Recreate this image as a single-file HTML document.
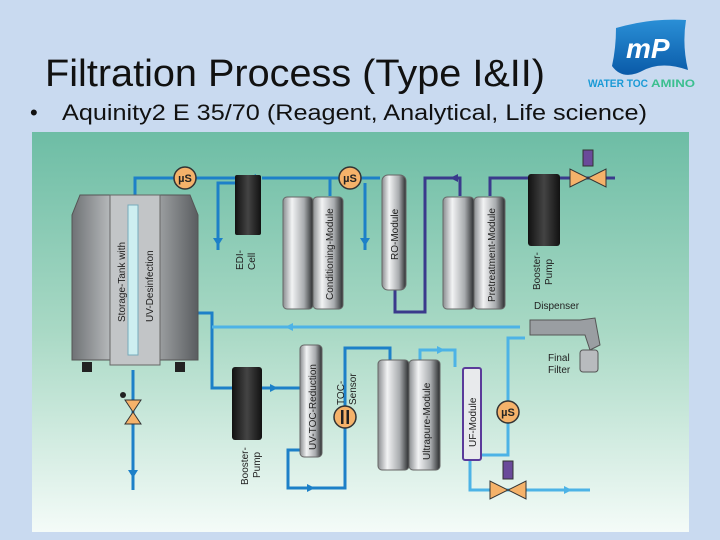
<!DOCTYPE html>
<html><head><meta charset="utf-8"><style>
html,body{margin:0;padding:0;width:720px;height:540px;overflow:hidden;background:#c9daf0}
svg{display:block}
text{font-family:"Liberation Sans",sans-serif}
</style></head><body>
<svg width="720" height="540" viewBox="0 0 720 540">
<defs>
<linearGradient id="bg" x1="0" y1="0" x2="0" y2="1">
<stop offset="0" stop-color="#6dbda5"/><stop offset="0.5" stop-color="#a9d9c5"/><stop offset="1" stop-color="#f4fbf8"/>
</linearGradient>
<linearGradient id="cyl" x1="0" y1="0" x2="1" y2="0">
<stop offset="0" stop-color="#8a8d90"/><stop offset="0.3" stop-color="#f2f3f4"/><stop offset="0.7" stop-color="#a8abae"/><stop offset="1" stop-color="#2a2c2e"/>
</linearGradient>
<linearGradient id="blk" x1="0" y1="0" x2="1" y2="0">
<stop offset="0" stop-color="#111"/><stop offset="0.5" stop-color="#444"/><stop offset="1" stop-color="#111"/>
</linearGradient>
<linearGradient id="tank" x1="0" y1="0" x2="1" y2="0">
<stop offset="0" stop-color="#6f7275"/><stop offset="0.3" stop-color="#b5b8ba"/><stop offset="0.7" stop-color="#9a9d9f"/><stop offset="1" stop-color="#5a5d60"/>
</linearGradient>
<linearGradient id="logo" x1="0" y1="0" x2="0" y2="1">
<stop offset="0" stop-color="#2a8fd6"/><stop offset="1" stop-color="#0a5aa8"/>
</linearGradient>
</defs>
<rect width="720" height="540" fill="#c9daf0"/>
<text x="45" y="86" font-size="38" fill="#111" textLength="500" lengthAdjust="spacingAndGlyphs">Filtration Process (Type I&amp;II)</text>
<text x="30" y="120" font-size="22" fill="#111">•</text>
<text x="62" y="120" font-size="22" fill="#111" textLength="585" lengthAdjust="spacingAndGlyphs">Aquinity2 E 35/70 (Reagent, Analytical, Life science)</text>
<!-- logo -->
<path d="M616 28 Q650 18 686 20 Q682 45 688 70 Q660 60 640 72 Q622 80 612 66 Q616 48 616 28Z" fill="url(#logo)"/>
<text x="626" y="58" font-size="28" font-weight="bold" font-style="italic" fill="#fff">mP</text>
<text x="588" y="87" font-size="11" font-weight="bold" fill="#1a9ad6" textLength="60" lengthAdjust="spacingAndGlyphs">WATER TOC</text>
<text x="651" y="87" font-size="11" font-weight="bold" fill="#3bbf8f" textLength="44" lengthAdjust="spacingAndGlyphs">AMINO</text>
<!-- panel -->
<rect x="32" y="132" width="657" height="400" fill="url(#bg)"/>
<g fill="none" stroke-width="3">
<!-- blue lines -->
<path d="M135 195 V178 H235" stroke="#1d80c8"/>
<path d="M262 178 H330 V196" stroke="#1d80c8"/>
<path d="M235 183 H218 V250" stroke="#1d80c8"/>
<path d="M330 178 H380" stroke="#1d80c8"/>
<path d="M365 183 V250" stroke="#1d80c8"/>
<path d="M195 313 H212 V388 H300" stroke="#1d80c8"/>
<path d="M300 450 H288 V488 H345 V348 H390 V360" stroke="#1d80c8"/>
<path d="M133 370 V490" stroke="#1d80c8"/>
<!-- purple lines -->
<path d="M395 290 V312 H425 V178 H460 V196" stroke="#3a3a8c"/>
<path d="M490 196 V178 H530" stroke="#3a3a8c"/>
<path d="M560 178 H615" stroke="#3a3a8c"/>
<!-- light blue -->
<path d="M520 327 H212" stroke="#4db3e6"/>
<path d="M420 360 V350 H455 V367" stroke="#4db3e6"/>
<path d="M480 455 H508 V338 H525" stroke="#4db3e6"/>
<path d="M470 460 V490 H590" stroke="#4db3e6"/>
</g>
<!-- arrows -->
<g fill="#1d80c8">
<path d="M248 178 l8 -4 v8z"/><path d="M213 238 l5 8 l5 -8z"/><path d="M360 238 l5 8 l5 -8z"/>
<path d="M128 470 l5 8 l5 -8z"/><path d="M278 388 l-8 -4 v8z"/><path d="M315 488 l-8 -4 v8z"/>
</g>
<path d="M450 178 l8 -4 v8z" fill="#3a3a8c"/>
<path d="M285 327 l8 -4 v8z" fill="#4db3e6"/><path d="M445 350 l-8 -4 v8z" fill="#4db3e6"/><path d="M572 490 l-8 -4 v8z" fill="#4db3e6"/>
<!-- storage tank -->
<path d="M80 195 H190 L198 215 V360 H72 V215Z" fill="url(#tank)" stroke="#555"/>
<rect x="110" y="195" width="50" height="170" fill="#c2c5c7" stroke="#666"/>
<rect x="128" y="205" width="10" height="150" fill="#cdeef0" stroke="#7ab"/>
<rect x="82" y="362" width="10" height="10" fill="#222"/><rect x="175" y="362" width="10" height="10" fill="#222"/>
<text transform="translate(125,322) rotate(-90)" font-size="10" fill="#222">Storage-Tank with</text>
<text transform="translate(153,322) rotate(-90)" font-size="10" fill="#222">UV-Desinfection</text>
<!-- valve bottom-left -->
<path d="M125 400 H141 L133 412Z M125 424 H141 L133 412Z" fill="#f5b26a" stroke="#333"/>
<circle cx="123" cy="395" r="3" fill="#222"/>
<!-- EDI -->
<rect x="235" y="175" width="26" height="60" rx="2" fill="url(#blk)"/>
<text transform="translate(243,270) rotate(-90)" font-size="10" fill="#222">EDI-</text>
<text transform="translate(255,270) rotate(-90)" font-size="10" fill="#222">Cell</text>
<!-- conditioning -->
<rect x="283" y="197" width="30" height="112" rx="4" fill="url(#cyl)" stroke="#666"/>
<rect x="313" y="197" width="30" height="112" rx="4" fill="url(#cyl)" stroke="#666"/>
<text transform="translate(333,300) rotate(-90)" font-size="10" fill="#222">Conditioning-Module</text>
<!-- RO -->
<rect x="382" y="175" width="24" height="115" rx="6" fill="url(#cyl)" stroke="#666"/>
<text transform="translate(398,260) rotate(-90)" font-size="10" fill="#222">RO-Module</text>
<!-- pretreatment -->
<rect x="443" y="197" width="31" height="112" rx="4" fill="url(#cyl)" stroke="#666"/>
<rect x="474" y="197" width="31" height="112" rx="4" fill="url(#cyl)" stroke="#666"/>
<text transform="translate(495,302) rotate(-90)" font-size="10" fill="#222">Pretreatment-Module</text>
<!-- booster top -->
<rect x="528" y="174" width="32" height="72" rx="3" fill="url(#blk)"/>
<text transform="translate(540,290) rotate(-90)" font-size="10" fill="#222">Booster-</text>
<text transform="translate(552,285) rotate(-90)" font-size="10" fill="#222">Pump</text>
<!-- valve top-right -->
<path d="M570 169 V187 L588 178Z M606 169 V187 L588 178Z" fill="#f5b26a" stroke="#333"/>
<rect x="583" y="150" width="10" height="16" fill="#6a4a9a" stroke="#333"/>
<!-- dispenser -->
<text x="534" y="309" font-size="10" fill="#222">Dispenser</text>
<path d="M530 320 H580 L595 318 L600 345 L590 350 L585 335 H530Z" fill="#9a9ea2" stroke="#555"/>
<rect x="580" y="350" width="18" height="22" rx="3" fill="#b8bbbe" stroke="#555"/>
<text x="548" y="361" font-size="10" fill="#222">Final</text>
<text x="548" y="373" font-size="10" fill="#222">Filter</text>
<!-- booster bottom -->
<rect x="232" y="367" width="30" height="73" rx="3" fill="url(#blk)"/>
<text transform="translate(248,485) rotate(-90)" font-size="10" fill="#222">Booster-</text>
<text transform="translate(260,478) rotate(-90)" font-size="10" fill="#222">Pump</text>
<!-- UV-TOC -->
<rect x="300" y="345" width="22" height="112" rx="4" fill="url(#cyl)" stroke="#666"/>
<text transform="translate(316,450) rotate(-90)" font-size="10" fill="#222">UV-TOC-Reduction</text>
<text transform="translate(344,405) rotate(-90)" font-size="10" fill="#222">TOC-</text>
<text transform="translate(356,405) rotate(-90)" font-size="10" fill="#222">Sensor</text>
<circle cx="345" cy="417" r="11" fill="#f5b26a" stroke="#333" stroke-width="1.5"/>
<rect x="341" y="410" width="2.5" height="14" fill="#222"/><rect x="346.5" y="410" width="2.5" height="14" fill="#222"/>
<!-- ultrapure -->
<rect x="378" y="360" width="31" height="110" rx="4" fill="url(#cyl)" stroke="#666"/>
<rect x="409" y="360" width="31" height="110" rx="4" fill="url(#cyl)" stroke="#666"/>
<text transform="translate(430,460) rotate(-90)" font-size="10" fill="#222">Ultrapure-Module</text>
<!-- UF -->
<rect x="463" y="368" width="18" height="92" rx="2" fill="#e8eaec" stroke="#5a3a9a" stroke-width="2"/>
<text transform="translate(476,447) rotate(-90)" font-size="10" fill="#222">UF-Module</text>
<!-- bottom valve -->
<path d="M490 481 V499 L508 490Z M526 481 V499 L508 490Z" fill="#f5b26a" stroke="#333"/>
<rect x="503" y="461" width="10" height="18" fill="#6a4a9a" stroke="#333"/>
<!-- µS -->
<g font-size="11" font-weight="bold" fill="#222" text-anchor="middle">
<circle cx="185" cy="178" r="11" fill="#f5b26a" stroke="#333" stroke-width="1.5"/><text x="185" y="182">µS</text>
<circle cx="350" cy="178" r="11" fill="#f5b26a" stroke="#333" stroke-width="1.5"/><text x="350" y="182">µS</text>
<circle cx="508" cy="412" r="11" fill="#f5b26a" stroke="#333" stroke-width="1.5"/><text x="508" y="416">µS</text>
</g>
</svg>
</body></html>
